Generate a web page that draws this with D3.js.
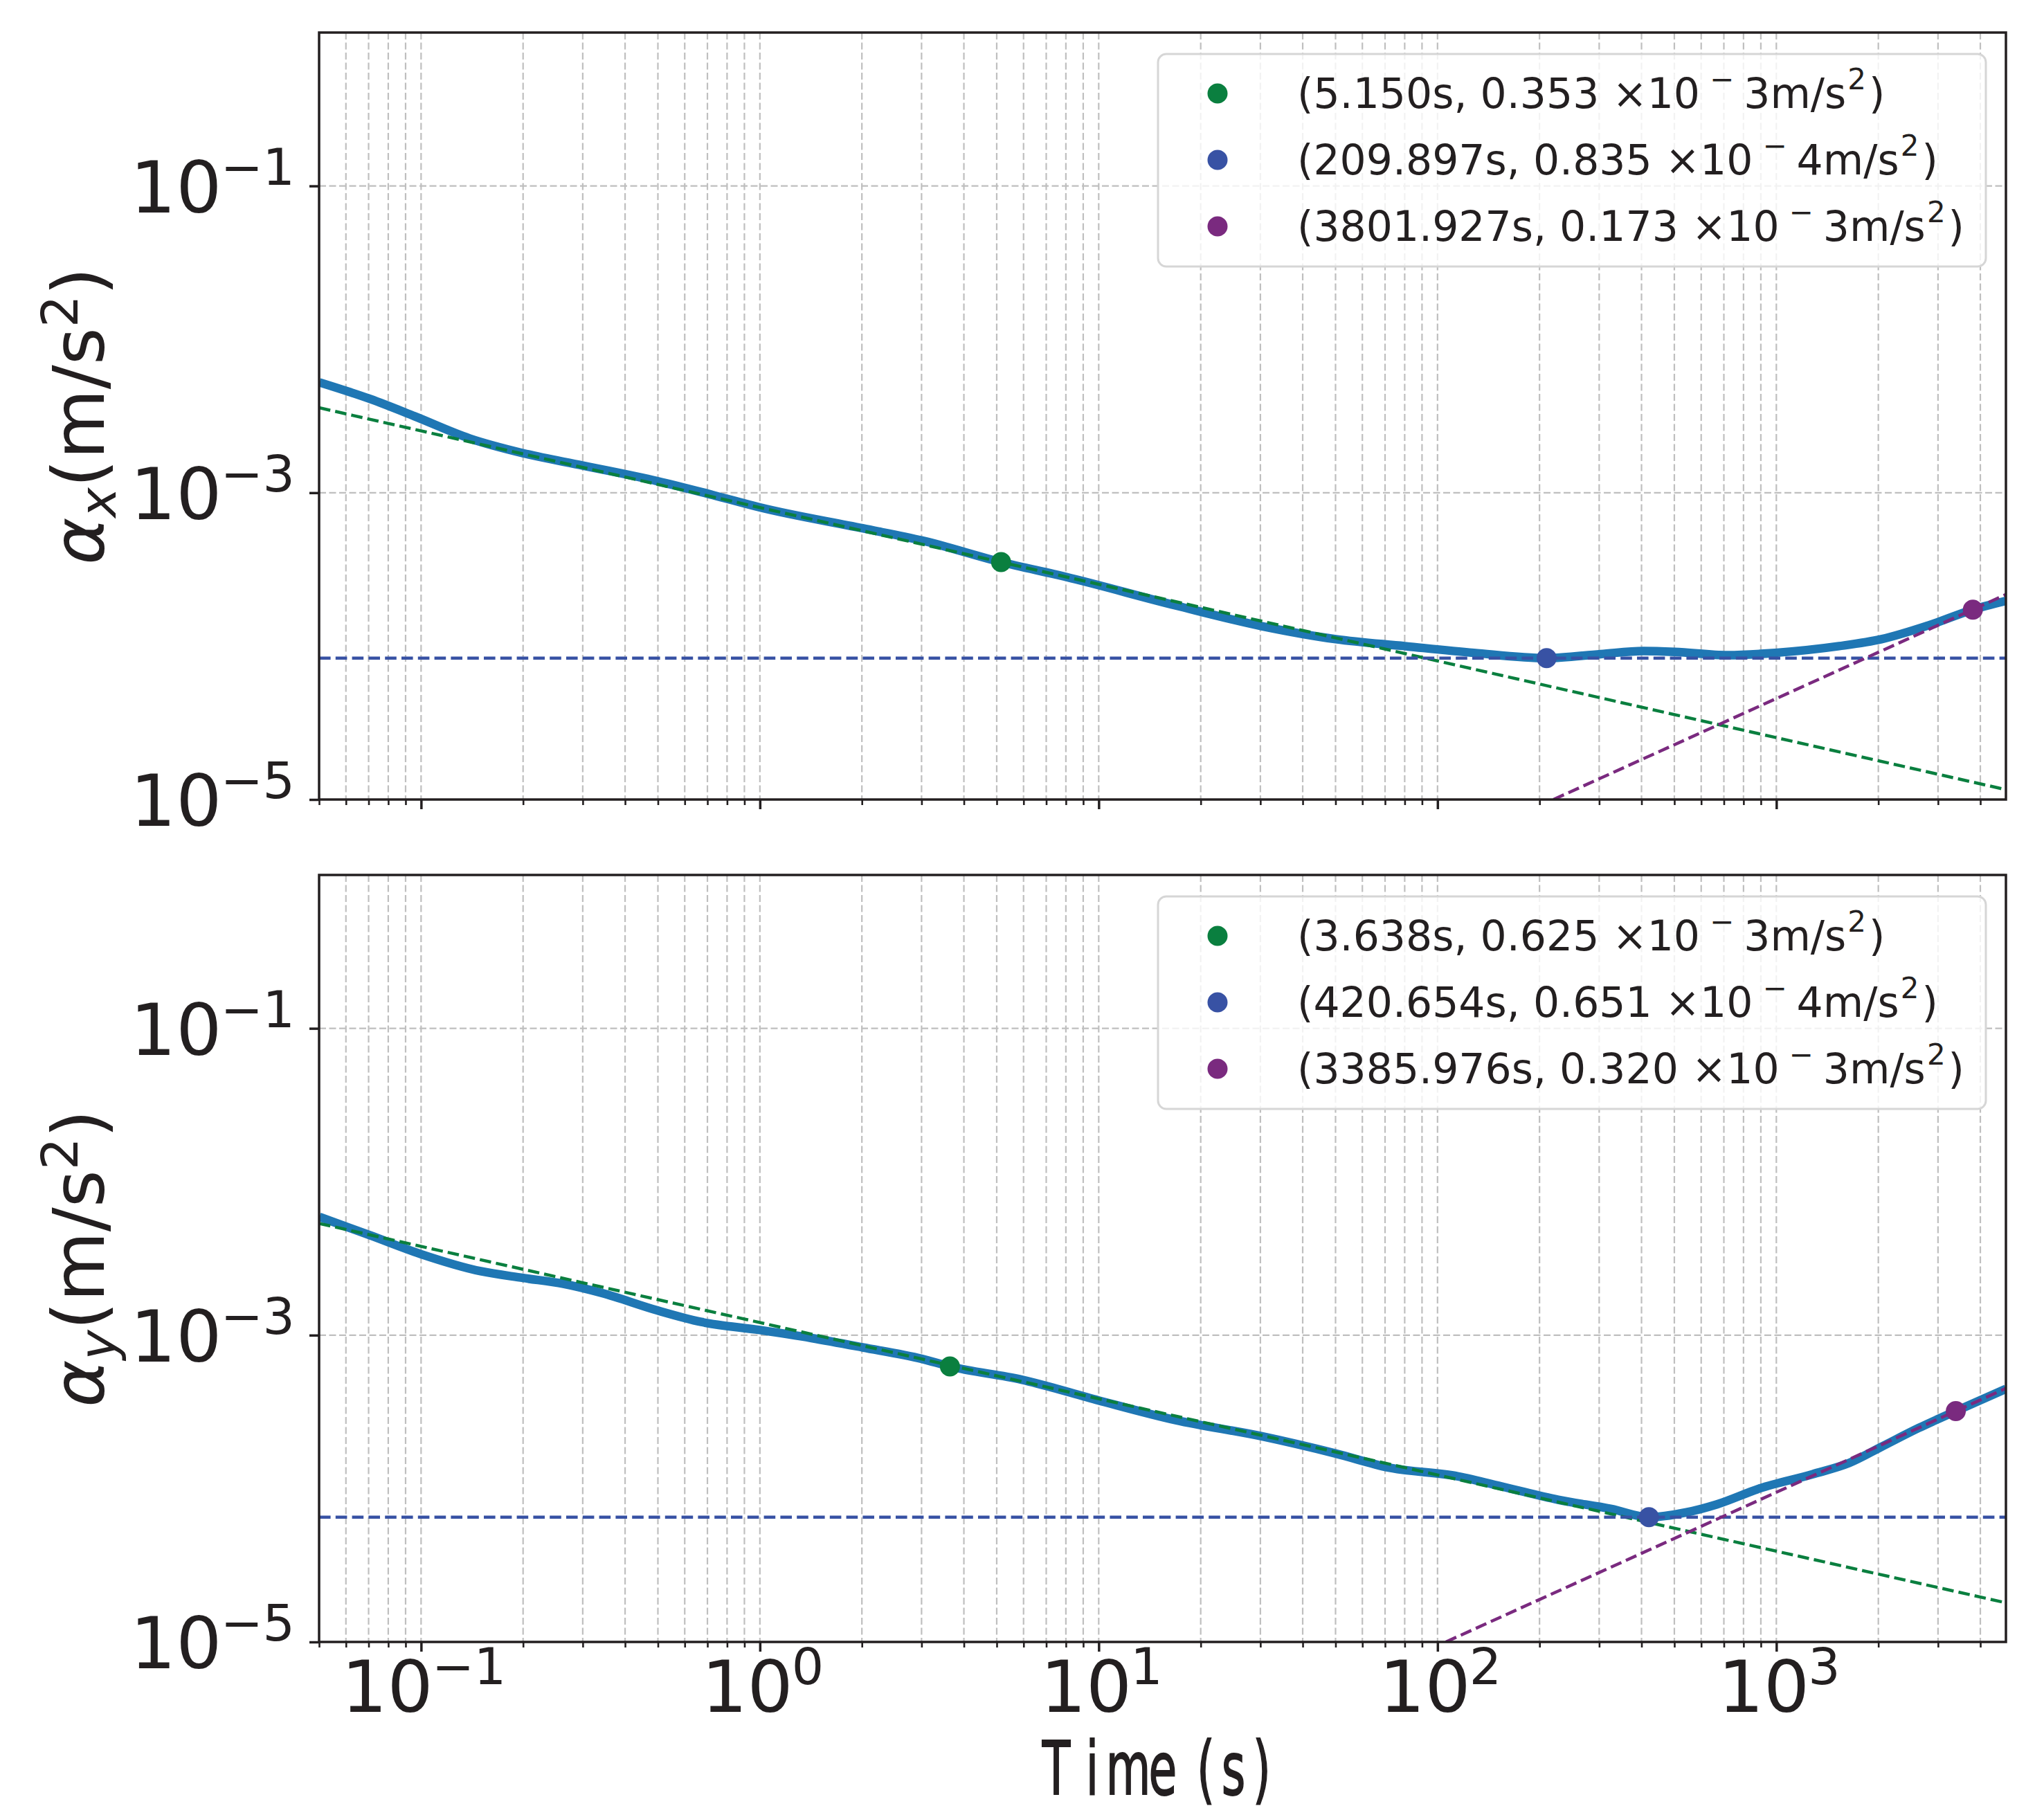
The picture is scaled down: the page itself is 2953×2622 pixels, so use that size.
<!DOCTYPE html>
<meta charset="utf-8" />
<script src="https://d3js.org/d3.v7.min.js"></script>
<style>
	body { margin: 0; background: #fff; }
</style>
<div id="chart"></div>
<script>
	// ---- data ----
	// Allan deviation, x axis
	var timeX = [0.0501, 0.0708, 0.0957, 0.139, 0.200, 0.302, 0.498, 0.724, 1.00, 2.01, 3.01, 5.15, 7.98, 16.9, 30.3, 50.1, 80.0, 128, 209.9, 303, 405, 501, 719, 993, 1531, 2042, 2825, 3801.9, 4760];
	var adevX = [5.24e-3, 4.08e-3, 3.15e-3, 2.26e-3, 1.81e-3, 1.50e-3, 1.19e-3, 9.68e-4, 8.02e-4, 5.86e-4, 4.88e-4, 3.53e-4, 2.83e-4, 1.84e-4, 1.35e-4, 1.11e-4, 1.00e-4, 9.04e-5, 8.35e-5, 8.87e-5, 9.29e-5, 9.18e-5, 8.73e-5, 9.04e-5, 1.00e-4, 1.11e-4, 1.37e-4, 1.73e-4, 1.97e-4];

	// Allan deviation, y axis
	var timeY = [0.0501, 0.0708, 0.0993, 0.150, 0.200, 0.263, 0.342, 0.498, 0.671, 1.00, 1.42, 2.01, 3.01, 3.638, 5.92, 10.0, 16.9, 30.3, 50.1, 71.8, 115, 158, 227, 326, 420.654, 540, 668, 891, 1279, 1644, 2042, 2630, 3385.976, 4760];
	var adevY = [5.90e-3, 4.47e-3, 3.39e-3, 2.61e-3, 2.36e-3, 2.16e-3, 1.88e-3, 1.45e-3, 1.22e-3, 1.08e-3, 9.57e-4, 8.32e-4, 7.00e-4, 6.25e-4, 5.13e-4, 3.75e-4, 2.79e-4, 2.19e-4, 1.69e-4, 1.37e-4, 1.20e-4, 1.02e-4, 8.45e-5, 7.36e-5, 6.51e-5, 6.98e-5, 7.89e-5, 1.00e-4, 1.24e-4, 1.47e-4, 1.87e-4, 2.48e-4, 3.20e-4, 4.46e-4];

	// highlighted points (time, coefficient, exponent)
	var markTimeX = [5.150, 209.897, 3801.927];
	var markCoefX = [0.353, 0.835, 0.173];
	var markExpX = [3, 4, 3];
	var markTimeY = [3.638, 420.654, 3385.976];
	var markCoefY = [0.625, 0.651, 0.320];
	var markExpY = [3, 4, 3];

	// fitted noise lines, end points [t, value]
	var fitGreenX = [[0.05, 3.58e-3], [4760, 1.16e-5]];
	var fitBlueX = [[0.05, 8.35e-5], [4760, 8.35e-5]];
	var fitPurpleX = [[219.8, 1e-5], [4760, 2.17e-4]];
	var fitGreenY = [[0.05, 5.35e-3], [4760, 1.8e-5]];
	var fitBlueY = [[0.05, 6.51e-5], [4760, 6.51e-5]];
	var fitPurpleY = [[105.8, 1e-5], [4760, 4.5e-4]];

	// tick labels
	var xTickVals = [0.1, 1, 10, 100, 1000];
	var xTickExp = ["\u22121", "0", "1", "2", "3"];
	var yTickVals = [1e-1, 1e-3, 1e-5];
	var yTickExp = ["\u22121", "\u22123", "\u22125"];

	var markColors = ["#0a7f3f", "#3852a4", "#7a2a7f"];
	var ink = "#231f20";

	// ---- layout ----
	var W = 2953, H = 2622;
	var left = 461, right = 2898;
	var panels = [
		{ top: 47, bottom: 1155, t: timeX, v: adevX, mt: markTimeX, mc: markCoefX, me: markExpX,
			fits: [fitGreenX, fitBlueX, fitPurpleX], sub: "x", labels: false },
		{ top: 1264, bottom: 2372, t: timeY, v: adevY, mt: markTimeY, mc: markCoefY, me: markExpY,
			fits: [fitGreenY, fitBlueY, fitPurpleY], sub: "y", labels: true }
	];

	var svg = d3.select("#chart").append("svg")
		.attr("width", W).attr("height", H)
		.style("font-family", "'DejaVu Sans', sans-serif");

	var x = d3.scaleLog().domain([0.05, 4760]).range([left, right]);
	var allTicks = x.ticks();
	var majorTicks = allTicks.filter(d => Math.abs(Math.log10(d) - Math.round(Math.log10(d))) < 1e-9);
	var minorTicks = allTicks.filter(d => majorTicks.indexOf(d) < 0);

	// "10" with a superscript exponent, like matplotlib mathtext
	function powerLabel(t, exp) {
		t.append("tspan").text("10");
		t.append("tspan").attr("dx", -2).attr("dy", -40).style("font-size", "73px").text(exp);
	}

	panels.forEach(function (p, pi) {
		var y = d3.scaleLog().domain([1e-5, 1]).range([p.bottom, p.top]);
		var g = svg.append("g");
		var clipId = "clip" + pi;
		g.append("clipPath").attr("id", clipId)
			.append("rect").attr("x", left).attr("y", p.top)
			.attr("width", right - left).attr("height", p.bottom - p.top);

		// grid, major and minor
		g.append("g").selectAll("line").data(allTicks).join("line")
			.attr("x1", d => x(d)).attr("x2", d => x(d))
			.attr("y1", p.top).attr("y2", p.bottom)
			.attr("stroke", "#bfbfbf").attr("stroke-width", 2.2)
			.attr("stroke-dasharray", "10,4.5");
		g.append("g").selectAll("line").data(yTickVals).join("line")
			.attr("x1", left).attr("x2", right)
			.attr("y1", d => y(d)).attr("y2", d => y(d))
			.attr("stroke", "#bfbfbf").attr("stroke-width", 2.2)
			.attr("stroke-dasharray", "10,4.5");

		var plot = g.append("g").attr("clip-path", "url(#" + clipId + ")");

		// measured curve
		var line = d3.line().x(d => x(d[0])).y(d => y(d[1])).curve(d3.curveMonotoneX);
		plot.append("path")
			.datum(p.t.map((t, i) => [t, p.v[i]]))
			.attr("d", line)
			.attr("fill", "none").attr("stroke", "#1f77b4").attr("stroke-width", 12.5)
			.attr("stroke-linejoin", "round");

		// fitted lines
		var straight = d3.line().x(d => x(d[0])).y(d => y(d[1]));
		p.fits.forEach(function (f, i) {
			plot.append("path").datum(f).attr("d", straight)
				.attr("fill", "none").attr("stroke", markColors[i])
				.attr("stroke-width", 4.5).attr("stroke-dasharray", "16.6,7.2");
		});

		// markers
		plot.selectAll("circle.mk").data(p.mt).join("circle")
			.attr("class", "mk")
			.attr("cx", d => x(d))
			.attr("cy", (d, i) => y(p.mc[i] * Math.pow(10, -p.me[i])))
			.attr("r", 14.5)
			.attr("fill", (d, i) => markColors[i]);

		// ticks
		var axMajor = g.append("g").attr("transform", "translate(0," + p.bottom + ")")
			.call(d3.axisBottom(x).tickValues(majorTicks).tickSize(14).tickSizeOuter(0).tickFormat(""));
		var axMinor = g.append("g").attr("transform", "translate(0," + p.bottom + ")")
			.call(d3.axisBottom(x).tickValues(minorTicks).tickSize(8).tickSizeOuter(0).tickFormat(""));
		axMajor.selectAll("line").attr("stroke", ink).attr("stroke-width", 3.5);
		axMinor.selectAll("line").attr("stroke", ink).attr("stroke-width", 2.6);
		var ayAxis = g.append("g").attr("transform", "translate(" + left + ",0)")
			.call(d3.axisLeft(y).tickValues(yTickVals).tickSize(14).tickSizeOuter(0).tickFormat(""));
		ayAxis.selectAll("line").attr("stroke", ink).attr("stroke-width", 3.5);
		[axMajor, axMinor, ayAxis].forEach(a => a.select(".domain").remove());

		// y tick labels
		yTickVals.forEach(function (v, i) {
			var t = g.append("text").attr("x", 426).attr("y", y(v) + 38)
				.attr("text-anchor", "end").attr("fill", ink).style("font-size", "104px");
			powerLabel(t, yTickExp[i]);
		});

		// x tick labels (bottom panel only)
		if (p.labels) {
			xTickVals.forEach(function (v, i) {
				var t = g.append("text").attr("x", x(v) + 4).attr("y", p.bottom + 101)
					.attr("text-anchor", "middle").attr("fill", ink).style("font-size", "104px");
				powerLabel(t, xTickExp[i]);
			});
		}

		// y label
		var cy = (p.top + p.bottom) / 2;
		var yl = g.append("text")
			.attr("transform", "translate(150," + cy + ") rotate(-90)")
			.attr("text-anchor", "middle").attr("fill", ink).style("font-size", "104px");
		yl.append("tspan").style("font-style", "italic").text("\u03b1");
		yl.append("tspan").style("font-style", "italic").style("font-size", "73px").attr("dy", 17).text(p.sub);
		yl.append("tspan").attr("dy", -17).text("(m/s");
		yl.append("tspan").style("font-size", "73px").attr("dy", -38).text("2");
		yl.append("tspan").attr("dy", 38).text(")");

		// legend
		var lg = g.append("g").attr("transform", "translate(0," + p.top + ")");
		lg.append("rect").attr("x", 1673).attr("y", 31).attr("width", 1196).attr("height", 307)
			.attr("rx", 12).attr("fill", "#fff").attr("fill-opacity", 0.8)
			.attr("stroke", "#d6d6d6").attr("stroke-width", 3);
		p.mt.forEach(function (t, i) {
			var ry = 88 + i * 96;
			lg.append("circle").attr("cx", 1759).attr("cy", ry).attr("r", 14.5).attr("fill", markColors[i]);
			var tx = lg.append("text").attr("x", 1874).attr("y", ry + 21)
				.attr("fill", ink).style("font-size", "60px");
			tx.append("tspan").text("(" + t.toFixed(3) + "s, " + p.mc[i].toFixed(3) + " \u00d710");
			tx.append("tspan").attr("dx", 14).attr("dy", -27).style("font-size", "42px").text("\u2212");
			tx.append("tspan").attr("dx", 14).attr("dy", 27).text(p.me[i] + "m/s");
			tx.append("tspan").attr("dx", 2).attr("dy", -27).style("font-size", "42px").text("2");
			tx.append("tspan").attr("dx", 4).attr("dy", 27).text(")");
		});

		// frame
		g.append("rect").attr("x", left).attr("y", p.top)
			.attr("width", right - left).attr("height", p.bottom - p.top)
			.attr("fill", "none").attr("stroke", ink).attr("stroke-width", 3.5);
	});

	// x label: narrow glyphs on fixed cells, as in the source font
	var labelChars = "Time(s)".split("");
	var labelCenters = [1526, 1578, 1630, 1680, 1742, 1782, 1823];
	var sx = 0.62;
	svg.append("text")
		.attr("transform", "scale(" + sx + ",1)")
		.attr("x", labelCenters.map(c => c / sx).join(" "))
		.attr("y", 2592)
		.attr("text-anchor", "middle").attr("fill", ink)
		.attr("stroke", ink).attr("stroke-width", 2)
		.style("font-size", "107px")
		.text(labelChars.join(""));
</script>
